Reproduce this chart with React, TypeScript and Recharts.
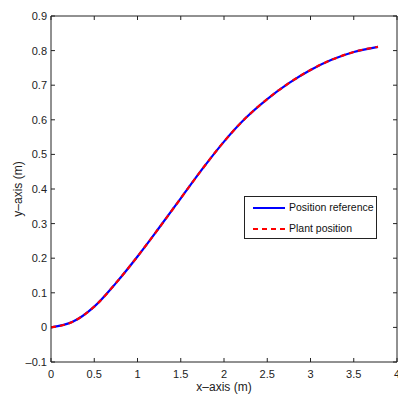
import React from "react";
import { LineChart, Line, XAxis, YAxis, Legend, ReferenceLine } from "recharts";

// values
const xValues = [0, 0.25, 0.5, 0.75, 1, 1.25, 1.5, 1.75, 2, 2.25, 2.5, 2.75, 3, 3.25, 3.5, 3.78];
const referenceY = [0, 0.016, 0.06, 0.128, 0.205, 0.288, 0.373, 0.458, 0.537, 0.605, 0.66, 0.706, 0.744, 0.774, 0.796, 0.811];
const plantY = [0, 0.016, 0.06, 0.128, 0.205, 0.288, 0.373, 0.458, 0.537, 0.605, 0.66, 0.706, 0.744, 0.774, 0.796, 0.811];

const xTicks = [0, 0.5, 1, 1.5, 2, 2.5, 3, 3.5, 4];
const yTicks = [-0.1, 0, 0.1, 0.2, 0.3, 0.4, 0.5, 0.6, 0.7, 0.8, 0.9];

const data = xValues.map((x, i) => ({ x, ref: referenceY[i], plant: plantY[i] }));

const xMin = 0;
const xMax = 4;
const yMin = -0.1;
const yMax = 0.9;
// inner tick length on the frame, in data units (about 4px)
const xTickLen = 0.0116;
const yTickLen = 0.046;

const font = "'Liberation Sans', Arial, sans-serif";
const tickStyle = { fontSize: 11, fill: "#222", fontFamily: font };

const fmt = (v: number) => (v < 0 ? "\u2013" + Math.abs(v) : String(v));

const LegendBox = () => (
    <div
        style={{
            width: 133,
            height: 43,
            boxSizing: "border-box",
            border: "1px solid #222",
            background: "#fff",
            fontFamily: font,
            fontSize: 10.5,
            color: "#111",
        }}
    >
        <div style={{ position: "relative", height: 21 }}>
            <svg width={40} height={10} style={{ position: "absolute", left: 8, top: 6 }}>
                <line x1={0} y1={5} x2={32} y2={5} stroke="#0000ff" strokeWidth={2} />
            </svg>
            <span style={{ position: "absolute", left: 44, top: 4 }}>Position reference</span>
        </div>
        <div style={{ position: "relative", height: 20 }}>
            <svg width={40} height={10} style={{ position: "absolute", left: 8, top: 6 }}>
                <line x1={0} y1={5} x2={32} y2={5} stroke="#ff0000" strokeWidth={2} strokeDasharray="5 4" />
            </svg>
            <span style={{ position: "absolute", left: 44, top: 4 }}>Plant position</span>
        </div>
    </div>
);

const App = () => {
    return (
        <div style={{ position: "absolute", left: 0, top: 0 }}>
            <LineChart
                width={398}
                height={399}
                data={data}
                margin={{ top: 16, right: 1, bottom: 0, left: 0 }}
            >
                <XAxis
                    dataKey="x"
                    type="number"
                    domain={[xMin, xMax]}
                    ticks={xTicks}
                    interval={0}
                    height={37}
                    tickSize={-4}
                    tickMargin={12}
                    tickLine={false}
                    stroke="#222"
                    tick={tickStyle}
                    allowDataOverflow
                    label={{
                        value: "x\u2013axis (m)",
                        position: "insideBottom",
                        offset: 8,
                        style: { fontSize: 12, fill: "#222", fontFamily: font },
                    }}
                />
                <YAxis
                    type="number"
                    domain={[yMin, yMax]}
                    ticks={yTicks}
                    interval={0}
                    width={51}
                    tickSize={-4}
                    tickMargin={8}
                    tickLine={false}
                    tickFormatter={fmt}
                    stroke="#222"
                    tick={tickStyle}
                    allowDataOverflow
                    label={{
                        value: "y\u2013axis (m)",
                        angle: -90,
                        position: "insideLeft",
                        offset: 18,
                        style: { fontSize: 12, fill: "#222", fontFamily: font, textAnchor: "middle" },
                    }}
                />
                {/* frame: top and right sides */}
                <ReferenceLine y={yMax} stroke="#222" />
                <ReferenceLine x={xMax} stroke="#222" />
                {/* inner ticks on bottom and top */}
                {xTicks.map((t) => (
                    <ReferenceLine
                        key={"bx" + t}
                        segment={[
                            { x: t, y: yMin },
                            { x: t, y: yMin + xTickLen },
                        ]}
                        stroke="#222"
                    />
                ))}
                {xTicks.map((t) => (
                    <ReferenceLine
                        key={"tx" + t}
                        segment={[
                            { x: t, y: yMax },
                            { x: t, y: yMax - xTickLen },
                        ]}
                        stroke="#222"
                    />
                ))}
                {/* inner ticks on left and right */}
                {yTicks.map((t) => (
                    <ReferenceLine
                        key={"ly" + t}
                        segment={[
                            { x: xMin, y: t },
                            { x: xMin + yTickLen, y: t },
                        ]}
                        stroke="#222"
                    />
                ))}
                {yTicks.map((t) => (
                    <ReferenceLine
                        key={"ry" + t}
                        segment={[
                            { x: xMax, y: t },
                            { x: xMax - yTickLen, y: t },
                        ]}
                        stroke="#222"
                    />
                ))}
                <Legend
                    layout="vertical"
                    align="center"
                    verticalAlign="middle"
                    content={LegendBox}
                    wrapperStyle={{ left: 244, top: 196, width: 133, height: 43 }}
                />
                <Line
                    dataKey="ref"
                    type="monotone"
                    stroke="#0000ff"
                    strokeWidth={2.2}
                    dot={false}
                    activeDot={false}
                    isAnimationActive={false}
                />
                <Line
                    dataKey="plant"
                    type="monotone"
                    stroke="#ff0000"
                    strokeWidth={2.2}
                    strokeDasharray="5 4"
                    dot={false}
                    activeDot={false}
                    isAnimationActive={false}
                />
            </LineChart>
        </div>
    );
};

export default App;
